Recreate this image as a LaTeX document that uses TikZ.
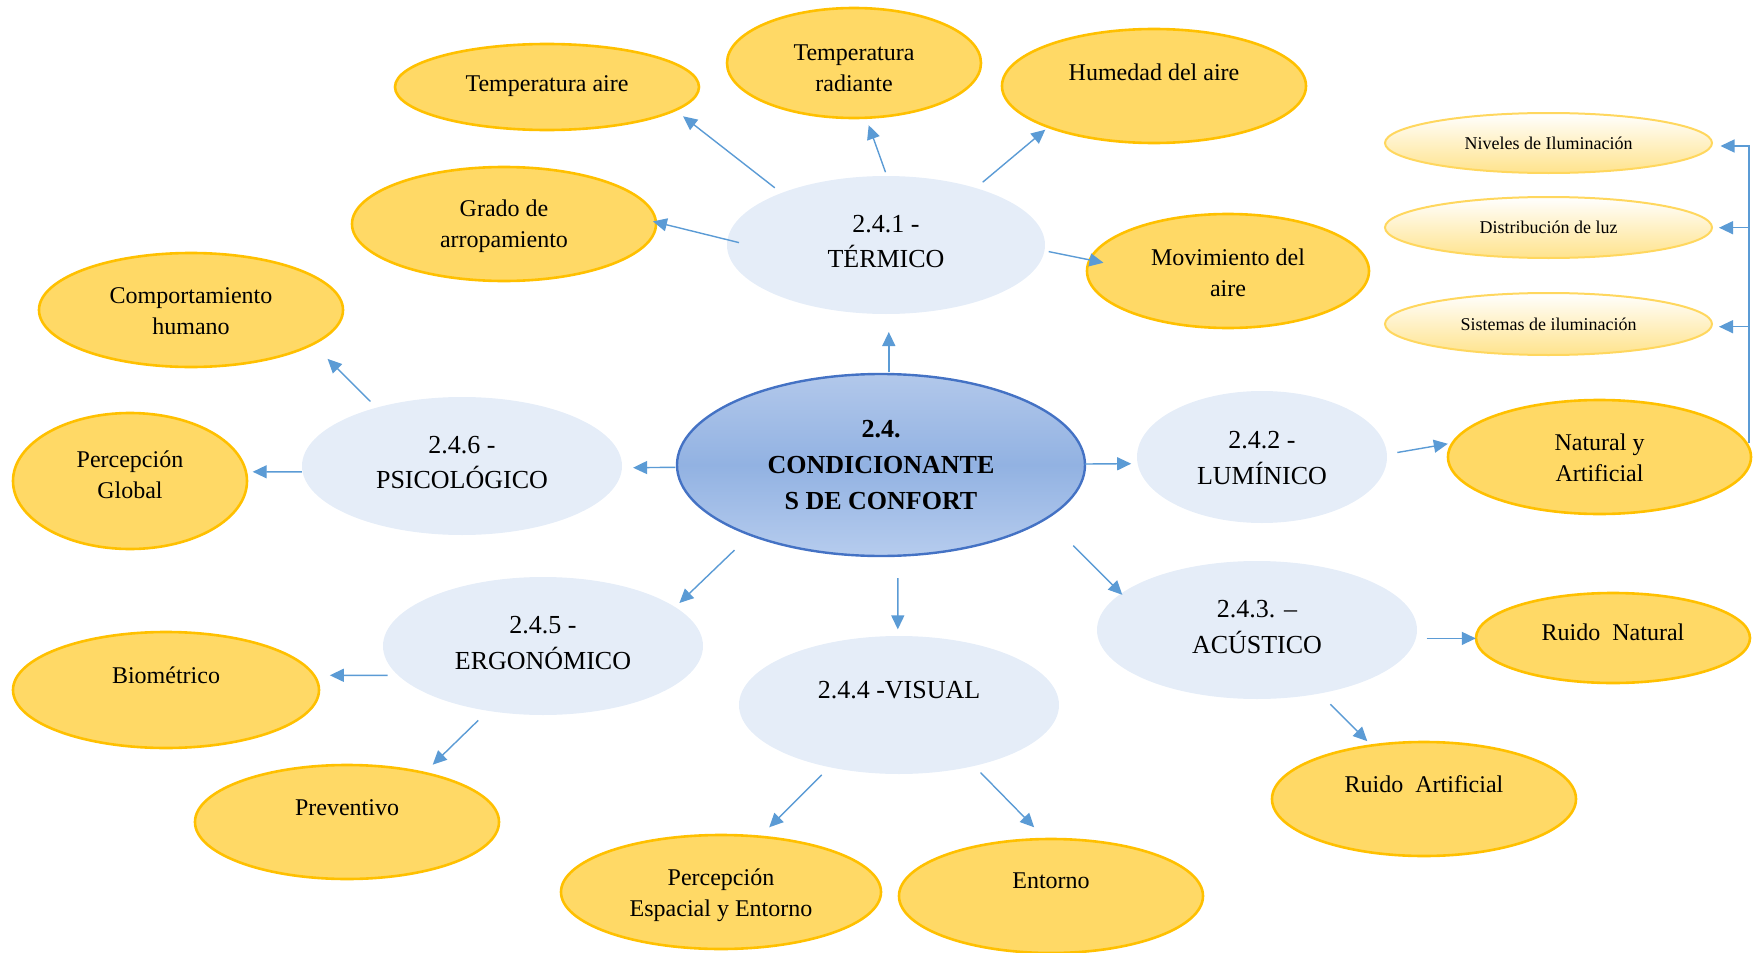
\documentclass[tikz,border=0pt]{standalone}
\usepackage{fontspec}
\setmainfont{Liberation Serif}
\usetikzlibrary{shapes.geometric,arrows.meta}

\definecolor{yfill}{HTML}{FFD966}
\definecolor{yborder}{HTML}{FFC000}
\definecolor{bfill}{HTML}{E5EDF8}
\definecolor{acol}{HTML}{5B9BD5}
\definecolor{cborder}{HTML}{4472C4}
\definecolor{ctop}{RGB}{178,200,235}
\definecolor{cmid}{RGB}{146,178,226}
\definecolor{cbot}{RGB}{182,204,238}
\definecolor{sborder}{HTML}{FFD75E}
\definecolor{sfill}{HTML}{FFE38C}

\tikzset{
  sz/.style 2 args={minimum width=#1pt, minimum height=#2pt},
  yel/.style={ellipse, draw=yborder, line width=1.3pt, fill=yfill, inner sep=0pt},
  blu/.style={ellipse, fill=bfill, inner sep=0pt},
  hub/.style={ellipse, draw=cborder, line width=1.2pt, top color=ctop, bottom color=cbot, middle color=cmid, inner sep=0pt},
  sml/.style={ellipse, draw=sborder, line width=1pt, top color=white, bottom color=sfill, inner sep=0pt},
  ytxt/.style={font=\fontsize{12}{15.6}\selectfont, align=center, inner sep=0pt},
  btxt/.style={font=\fontsize{13}{17.9}\selectfont, align=center, inner sep=0pt},
  htxt/.style={font=\fontsize{13}{17.9}\selectfont\bfseries, align=center, inner sep=0pt},
  stxt/.style={font=\fontsize{9}{11}\selectfont, align=center, inner sep=0pt},
  arr/.style={draw=acol, line width=0.7pt, -{Triangle[length=7pt,width=6.5pt]}},
}

\begin{document}
\begin{tikzpicture}[x=0.5pt, y=-0.5pt]
\useasboundingbox (0,0) rectangle (1753,953);

% central topic
\node[hub, sz={204}{91}] (hub) at (881,465) {};
\node[htxt] (hub-t) at (hub.center) {2.4.\\CONDICIONANTE\\S DE CONFORT};

% sub-topics
\node[blu, sz={159}{69}] (term) at (886,245) {};
\node[btxt] (term-t) at ([yshift=1.75pt]term.center) {2.4.1 -\\TÉRMICO};
\node[blu, sz={125}{66}] (lum) at (1262,457) {};
\node[btxt] (lum-t) at ([yshift=-0.5pt]lum.center) {2.4.2 -\\LUMÍNICO};
\node[blu, sz={160}{69}] (acu) at (1257,630) {};
\node[btxt] (acu-t) at ([yshift=1.5pt]acu.center) {2.4.3. –\\ACÚSTICO};
\node[blu, sz={160}{69}] (vis) at (899,705) {};
\node[btxt] (vis-t) at ([yshift=7.5pt]vis.center) {2.4.4 -VISUAL};
\node[blu, sz={160}{69}] (erg) at (543,646) {};
\node[btxt] (erg-t) at ([yshift=1.5pt]erg.center) {2.4.5 -\\ERGONÓMICO};
\node[blu, sz={160}{69}] (psi) at (462,466) {};
\node[btxt] (psi-t) at ([yshift=1.75pt]psi.center) {2.4.6 -\\PSICOLÓGICO};

% leaves
\node[yel, sz={152}{43}] (tair) at (547,87) {};
\node[ytxt] (tair-t) at ([yshift=0.6pt]tair.center) {Temperatura aire};
\node[yel, sz={127}{55}] (trad) at (854,63) {};
\node[ytxt] (trad-t) at ([yshift=-2.5pt]trad.center) {Temperatura\\radiante};
\node[yel, sz={152}{57}] (hum) at (1154,86) {};
\node[ytxt] (hum-t) at ([yshift=6.75pt]hum.center) {Humedad del aire};
\node[yel, sz={152}{57}] (grado) at (504,224) {};
\node[ytxt] (grado-t) at ([yshift=-1pt]grado.center) {Grado de\\arropamiento};
\node[yel, sz={141}{57}] (mov) at (1228,271) {};
\node[ytxt] (mov-t) at ([yshift=-1pt]mov.center) {Movimiento del\\aire};
\node[yel, sz={152}{57}] (comp) at (191,310) {};
\node[ytxt] (comp-t) at ([yshift=-0.5pt]comp.center) {Comportamiento\\humano};
\node[yel, sz={117}{68}] (pglob) at (130,481) {};
\node[ytxt] (pglob-t) at ([yshift=3.3pt]pglob.center) {Percepción\\Global};
\node[yel, sz={153}{58}] (bio) at (166,690) {};
\node[ytxt] (bio-t) at ([yshift=7.5pt]bio.center) {Biométrico};
\node[yel, sz={152}{57}] (prev) at (347,822) {};
\node[ytxt] (prev-t) at ([yshift=7.25pt]prev.center) {Preventivo};
\node[yel, sz={160}{57}] (pesp) at (721,892) {};
\node[ytxt] (pesp-t) at ([yshift=-1.75pt]pesp.center) {Percepción\\Espacial y Entorno};
\node[yel, sz={152}{57}] (ent) at (1051,896) {};
\node[ytxt] (ent-t) at ([yshift=7.5pt]ent.center) {Entorno};
\node[yel, sz={152}{57}] (rart) at (1424,799) {};
\node[ytxt] (rart-t) at ([yshift=7.25pt]rart.center) {Ruido\ \ Artificial};
\node[yel, sz={137}{45}] (rnat) at (1613,638) {};
\node[ytxt] (rnat-t) at ([yshift=2.8pt]rnat.center) {Ruido\ \ Natural};
\node[yel, sz={151.5}{57}] (nat) at (1599.5,457) {};
\node[ytxt] (nat-t) at ([yshift=-0.5pt]nat.center) {Natural y\\Artificial};

% lighting details
\node[sml, sz={163.5}{30}] (niv) at (1548.5,143) {};
\node[stxt] (niv-t) at (niv.center) {Niveles de Iluminación};
\node[sml, sz={163.5}{30.5}] (dist) at (1548.5,227.5) {};
\node[stxt] (dist-t) at (dist.center) {Distribución de luz};
\node[sml, sz={163.5}{31}] (sis) at (1548.5,324) {};
\node[stxt] (sis-t) at (sis.center) {Sistemas de iluminación};

% connectors
\draw[arr] ([shift={(7.8,-92.7)}]hub.center) -- ([shift={(2.8,87)}]term.center);
\draw[arr] ([shift={(-111.2,-57.2)}]term.center) -- ([shift={(136.1,29.3)}]tair.center);
\draw[arr] ([shift={(-0.5,-72.8)}]term.center) -- ([shift={(14.7,62.2)}]trad.center);
\draw[arr] ([shift={(96.7,-62.8)}]term.center) -- ([shift={(-108.7,43.7)}]hum.center);
\draw[arr] ([shift={(-147,-2.4)}]term.center) -- ([shift={(148.9,-2.6)}]grado.center);
\draw[arr] ([shift={(162.7,6.6)}]term.center) -- ([shift={(-124.5,-8.3)}]mov.center);

\draw[arr] ([shift={(203.5,-1)}]hub.center) -- ([shift={(-130.8,6.7)}]lum.center);
\draw[arr] ([shift={(135.3,-4.5)}]lum.center) -- ([shift={(-151.7,-13.2)}]nat.center);
\draw[arr] ([shift={(149.5,-14)}]nat.center) |- ([shift={(172,3)}]niv.center);
\draw[arr] ([shift={(149.5,-14)}]nat.center) |- ([shift={(170.5,0.2)}]dist.center);
\draw[arr] ([shift={(149.5,-14)}]nat.center) |- ([shift={(170.5,2.7)}]sis.center);

\draw[arr] ([shift={(192.3,80.6)}]hub.center) -- ([shift={(-134.7,-35.2)}]acu.center);
\draw[arr] ([shift={(169.6,8.4)}]acu.center) -- ([shift={(-137.2,0.4)}]rnat.center);
\draw[arr] ([shift={(73.4,74.3)}]acu.center) -- ([shift={(-56.7,-57.8)}]rart.center);

\draw[arr] ([shift={(16.8,113)}]hub.center) -- ([shift={(-1.2,-75.6)}]vis.center);
\draw[arr] ([shift={(-77.3,69.8)}]vis.center) -- ([shift={(48.2,-64.7)}]pesp.center);
\draw[arr] ([shift={(81.5,67.5)}]vis.center) -- ([shift={(-16.8,-68.7)}]ent.center);

\draw[arr] ([shift={(-146.5,85.1)}]hub.center) -- ([shift={(136.4,-43)}]erg.center);
\draw[arr] ([shift={(-155.4,29.3)}]erg.center) -- ([shift={(163.8,-14.7)}]bio.center);
\draw[arr] ([shift={(-64.8,74.4)}]erg.center) -- ([shift={(85.7,-57.3)}]prev.center);

\draw[arr] ([shift={(-205.7,2.3)}]hub.center) -- ([shift={(171.1,1.7)}]psi.center);
\draw[arr] ([shift={(-160.1,5.8)}]psi.center) -- ([shift={(122.7,-9.2)}]pglob.center);
\draw[arr] ([shift={(-91.6,-64.6)}]psi.center) -- ([shift={(136.6,48.9)}]comp.center);
\end{tikzpicture}
\end{document}
